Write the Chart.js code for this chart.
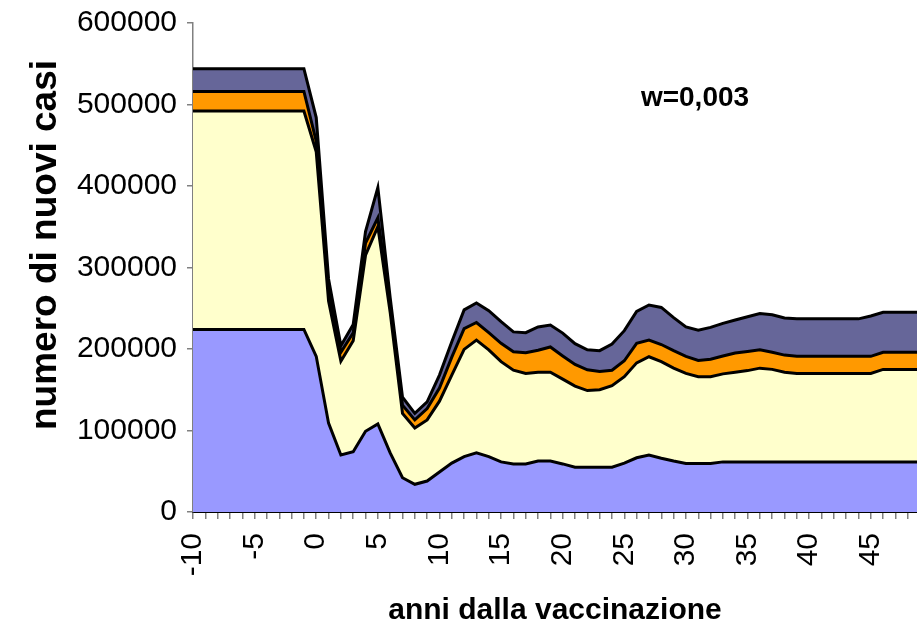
<!DOCTYPE html>
<html>
<head>
<meta charset="utf-8">
<script src="https://cdn.jsdelivr.net/npm/chart.js@4/dist/chart.umd.min.js"></script>
<style>
  body { margin: 0; background: #fff; }
  #wrap { width: 917px; height: 629px; position: relative; }
</style>
</head>
<body>
<div id="wrap"><canvas id="myChart"></canvas></div>
<script>
// anni dalla vaccinazione
const years = [-10, -9, -8, -7, -6, -5, -4, -3, -2, -1,
  0, 1, 2, 3, 4, 5, 6, 7, 8, 9,
  10, 11, 12, 13, 14, 15, 16, 17, 18, 19,
  20, 21, 22, 23, 24, 25, 26, 27, 28, 29,
  30, 31, 32, 33, 34, 35, 36, 37, 38, 39,
  40, 41, 42, 43, 44, 45, 46, 47, 48, 49];

// stacked layers, bottom to top
const layerBlue = [224000, 224000, 224000, 224000, 224000, 224000, 224000, 224000, 224000, 224000,
  191000, 109000, 70000, 74000, 99000, 108000, 72500, 42000, 34000, 38000,
  49000, 60000, 68000, 72500, 68000, 61500, 59000, 59000, 62500, 62500,
  59000, 55000, 55000, 55000, 55000, 60000, 66500, 70000, 66000, 62500,
  59500, 59500, 59500, 61500, 61500, 61500, 61500, 61500, 61500, 61500,
  61500, 61500, 61500, 61500, 61500, 61500, 61500, 61500, 61500, 61500];

const layerYellow = [268000, 268000, 268000, 268000, 268000, 268000, 268000, 268000, 268000, 268000,
  251000, 150000, 115000, 136000, 216000, 242000, 172500, 79000, 69000, 75000,
  87000, 108000, 131500, 138500, 131000, 123000, 115000, 111000, 109000, 109000,
  104000, 99500, 94000, 95000, 100000, 106000, 116500, 120500, 118500, 114000,
  110500, 106500, 106500, 108000, 110000, 112000, 115000, 113500, 110000, 108500,
  108500, 108500, 108500, 108500, 108500, 108500, 113500, 113500, 113500, 113500];

const layerOrange = [24000, 24000, 24000, 24000, 24000, 24000, 24000, 24000, 24000, 24000,
  13000, 13000, 11000, 10000, 15000, 11000, 8000, 10000, 10000, 14000,
  16000, 22000, 25500, 21500, 21000, 22500, 22500, 25500, 27000, 31000,
  28500, 26500, 25500, 22500, 19000, 19500, 24000, 20500, 21000, 21500,
  21000, 20000, 21500, 22000, 23500, 23500, 22500, 21000, 21000, 21000,
  21000, 21000, 21000, 21000, 21000, 21000, 21000, 21000, 21000, 21000];

const layerSlate = [28000, 28000, 28000, 28000, 28000, 28000, 28000, 28000, 28000, 28000,
  29000, 14000, 8000, 10000, 14000, 37000, 10000, 10000, 8000, 8000,
  16000, 19000, 23000, 24000, 27000, 26500, 24500, 24500, 28500, 27000,
  28000, 25500, 24500, 25500, 32000, 37000, 39000, 43000, 45500, 40500,
  36000, 37000, 39000, 40000, 40500, 42500, 44500, 46000, 45500, 46000,
  46000, 46000, 46000, 46000, 46000, 49500, 49000, 49000, 49000, 49000];

const layerColors = ['#9999FF', '#FFFFCC', '#FF9900', '#666699'];
const yTicks = [0, 100000, 200000, 300000, 400000, 500000, 600000];

const yTitle = 'numero di nuovi casi';
const xTitle = 'anni dalla vaccinazione';
const note = 'w=0,003';

Chart.defaults.font.family = '"Liberation Sans", Arial, sans-serif';
Chart.defaults.color = '#000';

function layer(data, i) {
  return {
    data: data,
    backgroundColor: layerColors[i],
    borderColor: '#000',
    borderWidth: 3,
    pointRadius: 0,
    tension: 0,
    fill: i === 0 ? 'origin' : '-1'
  };
}

// y title and the w label drawn by hand so they sit where the original has them
const extraText = {
  id: 'extraText',
  afterDraw(chart) {
    const ctx = chart.ctx;
    ctx.save();
    ctx.fillStyle = '#000';
    ctx.textAlign = 'center';
    ctx.textBaseline = 'middle';
    ctx.font = 'bold 37px "Liberation Sans", Arial, sans-serif';
    ctx.translate(46, 245);
    ctx.rotate(-Math.PI / 2);
    ctx.fillText(yTitle, 0, 0);
    ctx.restore();

    ctx.save();
    ctx.fillStyle = '#000';
    ctx.textAlign = 'center';
    ctx.textBaseline = 'middle';
    ctx.font = 'bold 28px "Liberation Sans", Arial, sans-serif';
    ctx.fillText(note, 695, 98);
    ctx.restore();
  }
};

const ctx = document.getElementById('myChart').getContext('2d');
let myChart = new Chart(ctx, {
  type: 'line',
  data: {
    labels: years,
    datasets: [layer(layerBlue, 0), layer(layerYellow, 1), layer(layerOrange, 2), layer(layerSlate, 3)]
  },
  options: {
    responsive: true,
    maintainAspectRatio: false,
    devicePixelRatio: 1,
    animation: false,
    layout: { padding: { top: 23, right: 0, bottom: 0, left: 0 } },
    plugins: {
      legend: { display: false },
      tooltip: { enabled: false }
    },
    scales: {
      x: {
        type: 'linear',
        min: -10,
        max: 48.75,
        afterFit: (s) => { s.height = 117; s.paddingLeft = 0; s.paddingRight = 0; },
        border: { color: '#000', width: 2 },
        grid: { drawOnChartArea: false, drawTicks: true, tickLength: 7, color: '#808080', lineWidth: 1.5 },
        ticks: {
          stepSize: 1,
          autoSkip: false,
          includeBounds: false,
          minRotation: 90,
          maxRotation: 90,
          padding: 14,
          font: { size: 30 },
          callback: (v) => (v % 5 === 0 ? String(v) : '')
        },
        title: {
          display: true,
          text: xTitle,
          font: { size: 30, weight: 'bold' },
          padding: { top: 0, bottom: 0 }
        }
      },
      y: {
        stacked: true,
        min: 0,
        max: 600000,
        afterFit: (s) => { s.width = 193; s.paddingTop = 0; s.paddingBottom = 0; },
        afterBuildTicks: (s) => { s.ticks = yTicks.map(v => ({ value: v })); },
        border: { color: '#808080', width: 1.5 },
        grid: { drawOnChartArea: false, drawTicks: true, tickLength: 6, color: '#808080', lineWidth: 1.5 },
        ticks: {
          padding: 10,
          font: { size: 30 },
          callback: (v) => String(v)
        }
      }
    }
  },
  plugins: [extraText]
});
</script>
</body>
</html>
